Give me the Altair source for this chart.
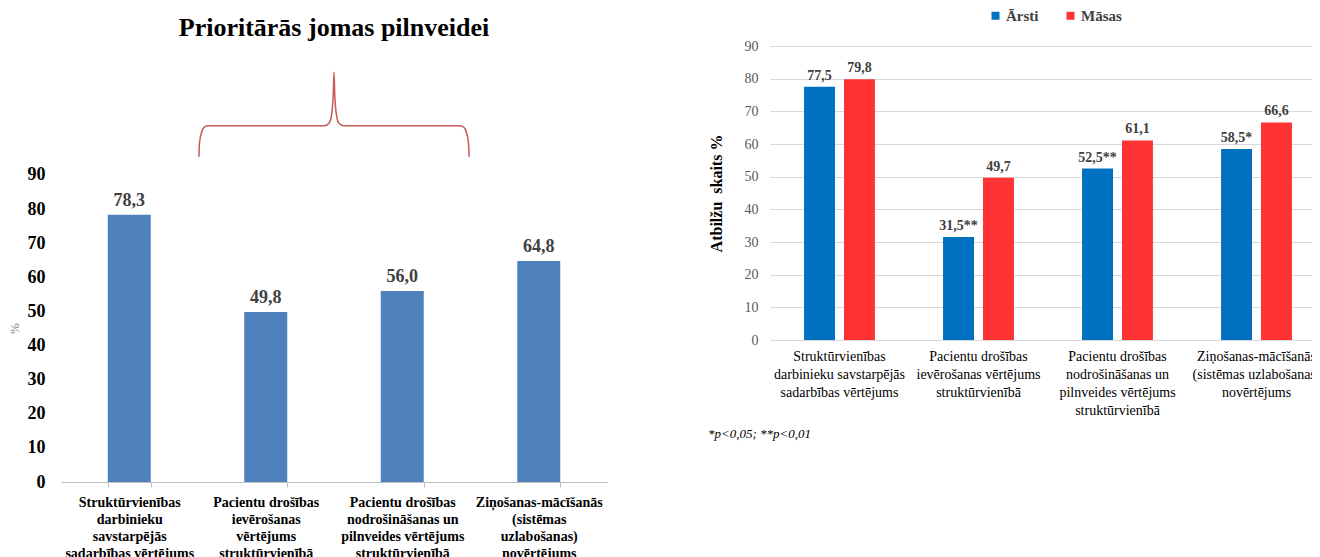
import altair as alt
import pandas as pd

SERIF = "Liberation Serif"

# ---------------- left panel data ----------------
left_title = "Prioritārās jomas pilnveidei"
left_categories = [
    "Struktūrvienības|darbinieku|savstarpējās|sadarbības vērtējums",
    "Pacientu drošības|ievērošanas|vērtējums|struktūrvienībā",
    "Pacientu drošības|nodrošināšanas un|pilnveides vērtējums|struktūrvienībā",
    "Ziņošanas-mācīšanās|(sistēmas|uzlabošanas)|novērtējums",
]
left_values = [78.3, 49.8, 56.0, 64.8]
left_labels = ["78,3", "49,8", "56,0", "64,8"]
left_ticks = [0, 10, 20, 30, 40, 50, 60, 70, 80, 90]

# brace over categories 2-3 (x in category units, y in value units)
brace_x = [1.01, 1.015, 1.03, 1.05, 1.08, 1.93, 1.965, 1.985, 1.995, 2.0,
           2.005, 2.015, 2.035, 2.07, 2.92, 2.95, 2.97, 2.985, 2.99]
brace_y = [95.3, 99.5, 102.5, 104.0, 104.4, 104.4, 105.2, 108.5, 114.0, 120.2,
           114.0, 108.5, 105.2, 104.4, 104.4, 104.0, 102.5, 99.5, 95.3]

# ---------------- right panel data ----------------
right_categories = [
    "Struktūrvienības|darbinieku savstarpējās|sadarbības vērtējums",
    "Pacientu drošības|ievērošanas vērtējums|struktūrvienībā",
    "Pacientu drošības|nodrošināšanas un|pilnveides vērtējums|struktūrvienībā",
    "Ziņošanas-mācīšanās|(sistēmas uzlabošanas)|novērtējums",
]
groups = ["Ārsti", "Māsas"]
group_colors = ["#0070C0", "#FF3333"]
arsti_values = [77.5, 31.5, 52.5, 58.5]
arsti_labels = ["77,5", "31,5**", "52,5**", "58,5*"]
masas_values = [79.8, 49.7, 61.1, 66.6]
masas_labels = ["79,8", "49,7", "61,1", "66,6"]
right_ticks = [0, 10, 20, 30, 40, 50, 60, 70, 80, 90]
right_ytitle = "Atbilžu\u00a0\u00a0skaits %"
footnote = "*p<0,05; **p<0,01"

# ---------------- left chart ----------------
left_df = pd.DataFrame({"cat": left_categories, "value": left_values, "label": left_labels})
brace_df = pd.DataFrame({"bx": brace_x, "value": brace_y})

left_yscale = alt.Scale(domain=[0, 127.8], nice=False, zero=True)
left_yaxis = alt.Axis(
    values=left_ticks, grid=False, domain=False, ticks=False,
    labelFont=SERIF, labelFontSize=18, labelFontWeight="bold", labelColor="#000000",
    labelPadding=16,
    title="%", titleFont=SERIF, titleFontSize=13, titleFontWeight="normal",
    titleColor="#7F7F7F", titlePadding=6, titleY=282,
)
xl = alt.X(
    "cat:N", sort=None,
    scale=alt.Scale(paddingInner=0.685, paddingOuter=0.3425),
    axis=alt.Axis(
        title=None, labelAngle=0, labelExpr="split(datum.label, '|')",
        labelFont=SERIF, labelFontSize=14, labelFontWeight="bold", labelColor="#000000",
        labelLineHeight=17, labelPadding=8, labelOverlap=False, labelLimit=300,
        tickBand="extent", tickSize=5, tickColor="#BFBFBF", domainColor="#BFBFBF",
    ),
)
yl = alt.Y("value:Q", scale=left_yscale, axis=left_yaxis)

left_base = alt.Chart(left_df).encode(x=xl, y=yl)
left_bars = left_base.mark_bar(color="#4F81BD")
left_text = left_base.mark_text(
    font=SERIF, fontSize=18, fontWeight="bold", color="#404040", baseline="bottom", dy=-5
).encode(text="label:N")
brace = alt.Chart(brace_df).mark_line(
    color="#C85A57", strokeWidth=1.5, interpolate="monotone"
).encode(
    x=alt.X("bx:Q", scale=alt.Scale(domain=[0, 4], nice=False, zero=False), axis=None),
    y=alt.Y("value:Q", scale=left_yscale, axis=left_yaxis),
)

left = alt.layer(alt.layer(left_bars, left_text), brace).resolve_scale(x="independent").properties(
    width=546, height=436,
    title=alt.TitleParams(left_title, font=SERIF, fontSize=26, fontWeight="bold",
                          color="#000000", anchor="middle", offset=5),
)

# ---------------- right chart ----------------
rows = []
for c, av, al, mv, ml in zip(right_categories, arsti_values, arsti_labels, masas_values, masas_labels):
    rows.append({"cat": c, "group": groups[0], "value": av, "label": al})
    rows.append({"cat": c, "group": groups[1], "value": mv, "label": ml})
right_df = pd.DataFrame(rows)

xr = alt.X(
    "cat:N", sort=None,
    scale=alt.Scale(paddingInner=0.49, paddingOuter=0.245),
    axis=alt.Axis(
        title=None, labelAngle=0, labelExpr="split(datum.label, '|')",
        labelFont=SERIF, labelFontSize=14, labelFontWeight="normal", labelColor="#000000",
        labelLineHeight=18, labelPadding=9, labelOverlap=False, labelLimit=300,
        domain=False, ticks=False,
    ),
)
xo = alt.XOffset("group:N", sort=groups, scale=alt.Scale(domain=groups, paddingInner=0.225, paddingOuter=0))
yr = alt.Y(
    "value:Q",
    scale=alt.Scale(domain=[0, 90], nice=False),
    axis=alt.Axis(
        values=right_ticks, grid=True, gridColor="#D9D9D9", gridWidth=1.2,
        domain=False, ticks=False,
        labelFont=SERIF, labelFontSize=14, labelColor="#595959", labelPadding=12,
        title=right_ytitle, titleFont=SERIF, titleFontSize=16, titleFontWeight="bold",
        titleColor="#000000", titlePadding=20,
    ),
)
cr = alt.Color(
    "group:N", sort=groups,
    scale=alt.Scale(domain=groups, range=group_colors),
    legend=alt.Legend(
        orient="none", legendX=218, legendY=-38, direction="horizontal", title=None,
        symbolType="square", symbolSize=64, symbolStrokeWidth=0, padding=0,
        labelFont=SERIF, labelFontSize=15, labelFontWeight="bold", labelColor="#404040",
        columnPadding=24, labelOffset=3,
    ),
)

right_base = alt.Chart(right_df).encode(x=xr, xOffset=xo, y=yr)
right_bars = right_base.mark_bar().encode(color=cr)
right_text = right_base.mark_text(
    font=SERIF, fontSize=14, fontWeight="bold", color="#404040", baseline="bottom", dy=-4
).encode(text="label:N")

right = alt.layer(right_bars, right_text).properties(
    width=556, height=294,
    title=alt.TitleParams(footnote, font=SERIF, fontSize=13, fontStyle="italic",
                          fontWeight="normal", color="#000000", orient="bottom",
                          anchor="start", offset=11),
)

chart = alt.hconcat(left, right, spacing=163, bounds="flush").resolve_legend(
    color="independent"
).properties(
    padding={"left": 0, "top": 0, "right": -14, "bottom": 0}
).configure(font=SERIF).configure_view(strokeWidth=0)

chart.save("out.html", embed_options={"renderer": "svg", "actions": False})
